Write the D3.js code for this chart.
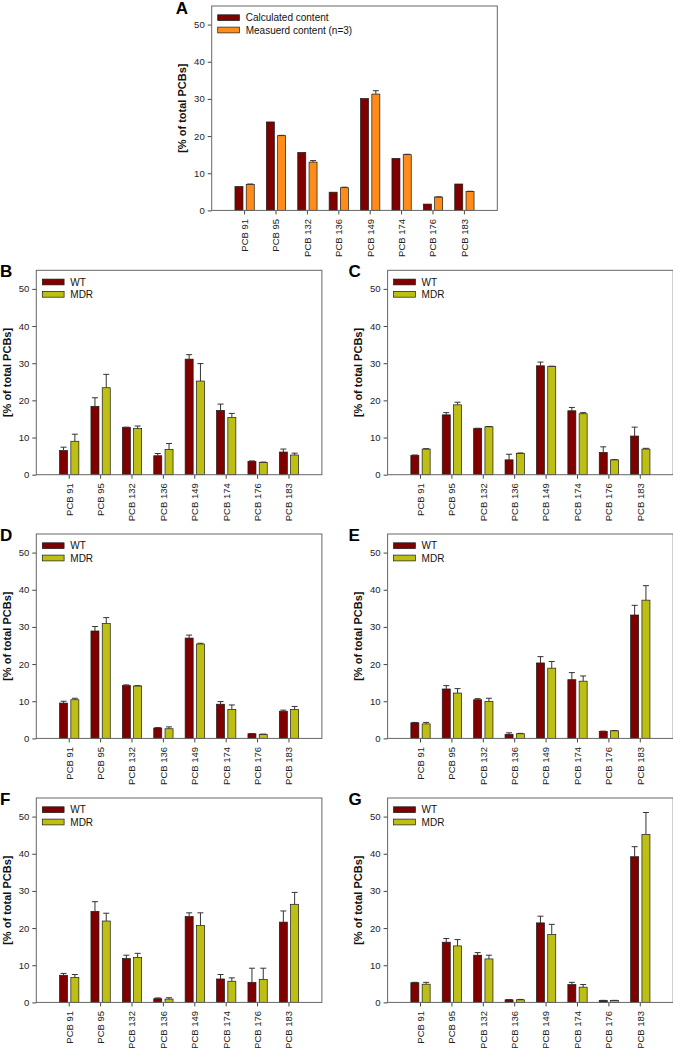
<!DOCTYPE html>
<html>
<head>
<meta charset="utf-8">
<script src="https://cdn.jsdelivr.net/npm/d3@7/dist/d3.min.js"></script>
<style>
  html, body { margin: 0; padding: 0; background: #fff; }
  svg { display: block; font-family: "Liberation Sans", Arial, Helvetica, sans-serif; }
</style>
</head>
<body>
<svg id="chart" width="673" height="1048"></svg>
<script>
// ---------- data ----------
const categories = ["PCB 91", "PCB 95", "PCB 132", "PCB 136", "PCB 149", "PCB 174", "PCB 176", "PCB 183"];
const yTicks = [0, 10, 20, 30, 40, 50];
const yLabel = "[% of total PCBs]";

// Panel A
const seriesNamesA = ["Calculated content", "Measuerd content (n=3)"];
const calculatedA = [6.4, 23.8, 15.6, 4.9, 30.1, 14.0, 1.7, 7.1];
const measuredA   = [7.0, 20.1, 13.0, 6.1, 31.3, 15.0, 3.6, 5.1];
const measuredErrA = [0.1, 0.1, 0.4, 0.15, 0.9, 0.1, 0.05, 0.05];

// Panels B-G
const seriesNamesWM = ["WT", "MDR"];
const wtB = [6.5, 18.4, 12.7, 5.1, 31.1, 17.3, 3.6, 6.1];
const wtErrB = [0.9, 2.3, 0.1, 0.6, 1.2, 1.7, 0.1, 0.8];
const mdrB = [9.0, 23.4, 12.4, 6.8, 25.2, 15.4, 3.3, 5.3];
const mdrErrB = [1.9, 3.6, 0.7, 1.6, 4.7, 1.1, 0.1, 0.5];

const wtC = [5.2, 16.1, 12.4, 4.0, 29.3, 17.2, 6.0, 10.4];
const wtErrC = [0.1, 0.6, 0.1, 1.5, 1.0, 0.9, 1.5, 2.4];
const mdrC = [6.9, 18.8, 12.9, 5.75, 29.1, 16.4, 4.0, 6.9];
const mdrErrC = [0.1, 0.7, 0.05, 0.1, 0.1, 0.3, 0.05, 0.2];

const wtD = [9.5, 28.9, 14.2, 2.8, 27.0, 9.2, 1.25, 7.3];
const wtErrD = [0.5, 1.2, 0.2, 0.1, 0.8, 0.7, 0.05, 0.3];
const mdrD = [10.4, 30.9, 14.1, 2.6, 25.4, 7.8, 1.1, 7.8];
const mdrErrD = [0.4, 1.6, 0.1, 0.5, 0.2, 1.2, 0.05, 0.8];

const wtE = [4.2, 13.3, 10.4, 1.1, 20.3, 15.8, 1.9, 33.2];
const wtErrE = [0.1, 0.9, 0.3, 0.4, 1.7, 1.9, 0.05, 2.6];
const mdrE = [3.9, 12.2, 9.9, 1.25, 18.9, 15.4, 2.05, 37.2];
const mdrErrE = [0.4, 1.2, 0.9, 0.1, 1.8, 1.4, 0.05, 3.9];

const wtF = [7.3, 24.5, 11.8, 1.0, 23.1, 6.3, 5.4, 21.6];
const wtErrF = [0.5, 2.6, 0.9, 0.2, 1.0, 1.2, 3.8, 3.0];
const mdrF = [6.7, 21.9, 12.1, 0.9, 20.7, 5.7, 6.2, 26.4];
const mdrErrF = [0.8, 2.1, 1.1, 0.35, 3.4, 0.9, 3.0, 3.2];

const wtG = [5.3, 16.2, 12.7, 0.7, 21.4, 4.8, 0.5, 39.2];
const wtErrG = [0.1, 1.0, 0.7, 0.05, 1.8, 0.6, 0.05, 2.7];
const mdrG = [4.9, 15.2, 11.7, 0.7, 18.3, 4.1, 0.5, 45.2];
const mdrErrG = [0.5, 1.7, 1.0, 0.1, 2.7, 0.7, 0.05, 5.9];

// ---------- styles ----------
const colorsA = ["#800000", "#ff8c1a"];
const colorsWM = ["#800000", "#bdbf14"];

// ---------- layout ----------
const W = 285.6, H = 204.4;
const panels = [
  { letter: "A", left: 211.7, top: 6,     names: seriesNamesA,  colors: colorsA,  values: [calculatedA, measuredA], errs: [null, measuredErrA] },
  { letter: "B", left: 36.3,  top: 270.3, names: seriesNamesWM, colors: colorsWM, values: [wtB, mdrB], errs: [wtErrB, mdrErrB] },
  { letter: "C", left: 387.6, top: 270.3, names: seriesNamesWM, colors: colorsWM, values: [wtC, mdrC], errs: [wtErrC, mdrErrC] },
  { letter: "D", left: 36.3,  top: 534,   names: seriesNamesWM, colors: colorsWM, values: [wtD, mdrD], errs: [wtErrD, mdrErrD] },
  { letter: "E", left: 387.6, top: 534,   names: seriesNamesWM, colors: colorsWM, values: [wtE, mdrE], errs: [wtErrE, mdrErrE] },
  { letter: "F", left: 36.3,  top: 798,   names: seriesNamesWM, colors: colorsWM, values: [wtF, mdrF], errs: [wtErrF, mdrErrF] },
  { letter: "G", left: 387.6, top: 798,   names: seriesNamesWM, colors: colorsWM, values: [wtG, mdrG], errs: [wtErrG, mdrErrG] }
];

const svg = d3.select("#chart");
svg.append("rect").attr("width", 673).attr("height", 1048).attr("fill", "#fff");

const y = d3.scaleLinear().domain([0, 55]).range([H, 0]);
const x = d3.scaleBand().domain(categories).range([0, W]).paddingInner(0).paddingOuter(0.548);
const step = x.bandwidth();
const x1 = d3.scaleBand().domain([0, 1]).range([step / 2 - 9.65, step / 2 + 9.65]).paddingInner(0.29);

panels.forEach(p => {
  const g = svg.append("g").attr("transform", `translate(${p.left},${p.top})`);

  // panel letter
  const letterX = p.left < 100 ? -p.left : (p.letter === "A" ? -36 : -39);
  g.append("text")
    .attr("x", letterX).attr("y", p.letter === "A" ? 8 : 6.5)
    .attr("font-size", 17).attr("font-weight", "bold").attr("fill", "#000")
    .text(p.letter);

  // y axis
  const ya = g.append("g").call(d3.axisLeft(y).tickValues(yTicks).tickSize(4).tickPadding(3));
  ya.select(".domain").remove();
  ya.selectAll("line").attr("stroke", "#444");
  ya.selectAll("text").attr("font-size", 9.5).attr("fill", "#222").attr("font-family", null);

  // x axis
  const xa = g.append("g").attr("transform", `translate(0,${H})`)
    .call(d3.axisBottom(x).tickSize(4).tickPadding(4.5));
  xa.select(".domain").remove();
  xa.selectAll("line").attr("stroke", "#444");
  xa.selectAll("text")
    .attr("font-size", 9.5).attr("fill", "#222").attr("font-family", null)
    .attr("text-anchor", "end")
    .attr("transform", "rotate(-90)")
    .attr("x", -8.5).attr("y", 0).attr("dy", "0.35em");

  // y label
  g.append("text")
    .attr("transform", `translate(${-29.5},${H / 2}) rotate(-90)`)
    .attr("text-anchor", "middle").attr("dy", "0.35em")
    .attr("font-size", 11).attr("font-weight", "bold").attr("fill", "#111")
    .text(yLabel);

  // bars
  p.values.forEach((vals, si) => {
    const sg = g.append("g");
    sg.selectAll("rect").data(vals).join("rect")
      .attr("x", (d, i) => x(categories[i]) + x1(si))
      .attr("y", d => y(d))
      .attr("width", x1.bandwidth())
      .attr("height", d => y(0) - y(d))
      .attr("fill", p.colors[si])
      .attr("stroke", "#1a1a1a").attr("stroke-width", 0.7);
    const errs = p.errs[si];
    if (errs) {
      const eg = g.append("g").attr("stroke", "#333").attr("stroke-width", 1);
      vals.forEach((v, i) => {
        const cx = x(categories[i]) + x1(si) + x1.bandwidth() / 2;
        eg.append("line").attr("x1", cx).attr("x2", cx).attr("y1", y(v)).attr("y2", y(v + errs[i]));
        eg.append("line").attr("x1", cx - 3).attr("x2", cx + 3).attr("y1", y(v + errs[i])).attr("y2", y(v + errs[i]));
      });
    }
  });

  // frame
  g.append("rect").attr("x", 0).attr("y", 0).attr("width", W).attr("height", H)
    .attr("fill", "none").attr("stroke", "#666").attr("stroke-width", 1);

  // legend
  const lg = g.append("g").attr("transform", "translate(6,8.8)");
  p.names.forEach((n, i) => {
    lg.append("rect").attr("x", 0).attr("y", i * 12.3).attr("width", 21.8).attr("height", 5.8)
      .attr("fill", p.colors[i]).attr("stroke", "#1a1a1a").attr("stroke-width", 0.7);
    lg.append("text").attr("x", 28).attr("y", i * 12.3 + 2.9).attr("dy", "0.36em")
      .attr("font-size", 10).attr("fill", "#111").text(n);
  });
});
</script>
</body>
</html>
